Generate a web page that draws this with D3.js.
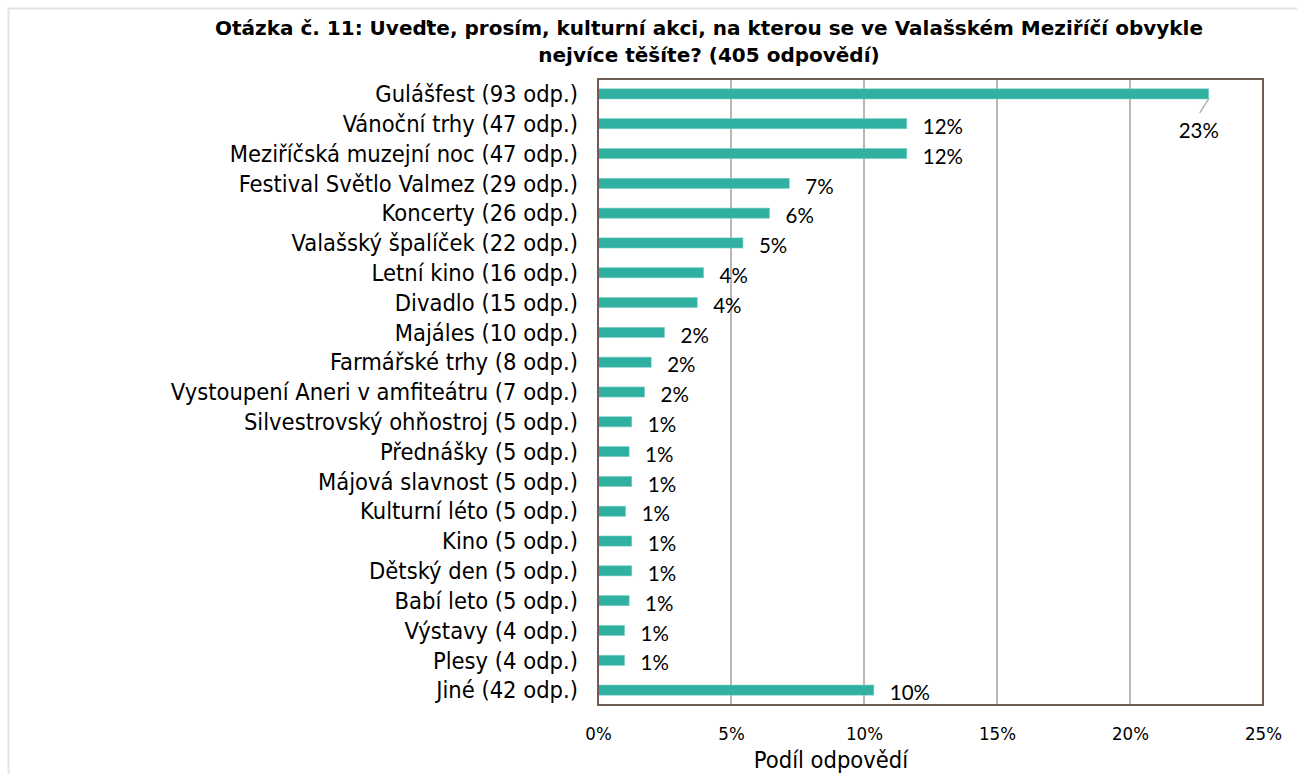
<!DOCTYPE html>
<html>
<head>
<meta charset="utf-8">
<script src="https://cdn.jsdelivr.net/npm/d3@7"></script>
<style>
  body { margin: 0; background: #fff; }
  svg { display: block; }
  .cat { font-family: "DejaVu Sans Condensed", "DejaVu Sans", sans-serif; font-size: 23.5px; fill: #000; }
  .tick text { font-family: "DejaVu Sans Condensed", "DejaVu Sans", sans-serif; font-size: 18.5px; fill: #000; }
  .val { font-family: Lato, "Open Sans", sans-serif; font-size: 20.5px; fill: #000; }
</style>
</head>
<body>
<div id="chart"></div>
<script>
const categories = ["Gulášfest (93 odp.)", "Vánoční trhy (47 odp.)", "Meziříčská muzejní noc (47 odp.)",
  "Festival Světlo Valmez (29 odp.)", "Koncerty (26 odp.)", "Valašský špalíček (22 odp.)",
  "Letní kino (16 odp.)", "Divadlo (15 odp.)", "Majáles (10 odp.)", "Farmářské trhy (8 odp.)",
  "Vystoupení Aneri v amfiteátru (7 odp.)", "Silvestrovský ohňostroj (5 odp.)", "Přednášky (5 odp.)",
  "Májová slavnost (5 odp.)", "Kulturní léto (5 odp.)", "Kino (5 odp.)", "Dětský den (5 odp.)",
  "Babí leto (5 odp.)", "Výstavy (4 odp.)", "Plesy (4 odp.)", "Jiné (42 odp.)"];
// share of answers in %
const shares = [22.96, 11.61, 11.61, 7.19, 6.45, 5.45, 3.97, 3.73, 2.5, 2.0, 1.75, 1.27, 1.17,
  1.27, 1.04, 1.27, 1.27, 1.17, 1.0, 1.0, 10.37];
const valueLabels = ["23%", "12%", "12%", "7%", "6%", "5%", "4%", "4%", "2%", "2%", "2%", "1%", "1%",
  "1%", "1%", "1%", "1%", "1%", "1%", "1%", "10%"];
const xTicks = [0, 5, 10, 15, 20, 25];
const titleLines = ["Otázka č. 11: Uveďte, prosím, kulturní akci, na kterou se ve Valašském Meziříčí obvykle",
  "nejvíce těšíte? (405 odpovědí)"];

const W = 1297, H = 774;
const margin = { top: 79, right: 34, bottom: 69, left: 598 };
const width = W - margin.left - margin.right;
const height = H - margin.top - margin.bottom;

const svg = d3.select("#chart").append("svg")
  .attr("width", W)
  .attr("height", H);

svg.append("rect")
  .attr("x", 8.5).attr("y", 8.5)
  .attr("width", 1300).attr("height", 800)
  .attr("fill", "none")
  .attr("stroke", "#e3e3e3")
  .attr("stroke-width", 2);

svg.selectAll(".title")
  .data(titleLines)
  .enter()
  .append("text")
  .attr("class", "title")
  .attr("x", 709)
  .attr("y", (d, i) => 34.5 + i * 27.5)
  .attr("text-anchor", "middle")
  .style("font-family", "'DejaVu Sans', sans-serif")
  .style("font-weight", "bold")
  .style("font-size", "20px")
  .text(d => d);

const g = svg.append("g")
  .attr("transform", `translate(${margin.left},${margin.top})`);

const x = d3.scaleLinear().domain([0, 25]).range([0, width]);
const y = d3.scaleBand().domain(categories).range([0, height]).paddingInner(0.66).paddingOuter(0.33);

// gridlines
g.selectAll(".grid")
  .data(xTicks.slice(1, -1))
  .enter()
  .append("line")
  .attr("x1", d => x(d)).attr("x2", d => x(d))
  .attr("y1", 0).attr("y2", height)
  .attr("stroke", "#c1b6ae")
  .attr("stroke-width", 2);

// x axis labels
const xAxis = d3.axisBottom(x).tickValues(xTicks).tickFormat(d => d + "%").tickSize(0).tickPadding(22);
g.append("g")
  .attr("transform", `translate(0,${height})`)
  .call(xAxis)
  .call(s => s.select(".domain").remove());

// bars
g.selectAll(".bar")
  .data(shares)
  .enter()
  .append("rect")
  .attr("class", "bar")
  .attr("x", 0)
  .attr("y", (d, i) => y(categories[i]))
  .attr("width", d => x(d))
  .attr("height", y.bandwidth())
  .attr("fill", "#2fb0a1")
  .attr("stroke", "#7fd0c6")
  .attr("stroke-width", 0.6);

// category labels
g.selectAll(".cat")
  .data(categories)
  .enter()
  .append("text")
  .attr("class", "cat")
  .attr("x", -20)
  .attr("y", d => y(d) + y.bandwidth() / 2)
  .attr("dy", "0.35em")
  .attr("text-anchor", "end")
  .text(d => d);

// value labels
g.selectAll(".val")
  .data(shares)
  .enter()
  .append("text")
  .attr("class", "val")
  .attr("x", (d, i) => i === 0 ? x(d) - 10 : x(d) + 16)
  .attr("y", (d, i) => i === 0 ? y(categories[i]) + 42 : y(categories[i]) + y.bandwidth() / 2 + 3)
  .attr("dy", "0.35em")
  .attr("text-anchor", (d, i) => i === 0 ? "middle" : "start")
  .text((d, i) => valueLabels[i]);

// leader line for the top label
g.append("line")
  .attr("x1", x(shares[0])).attr("y1", y(categories[0]) + y.bandwidth())
  .attr("x2", x(shares[0]) - 9).attr("y2", y(categories[0]) + 24)
  .attr("stroke", "#a6a6a6")
  .attr("stroke-width", 1.3);

// plot frame
g.append("rect")
  .attr("x", 0).attr("y", 0)
  .attr("width", width).attr("height", height)
  .attr("fill", "none")
  .attr("stroke", "#6f5d51")
  .attr("stroke-width", 2);

g.append("text")
  .attr("x", 233)
  .attr("y", height + 63)
  .attr("text-anchor", "middle")
  .style("font-family", "'DejaVu Sans Condensed', 'DejaVu Sans', sans-serif")
  .style("font-size", "23.5px")
  .text("Podíl odpovědí");
</script>
</body>
</html>
